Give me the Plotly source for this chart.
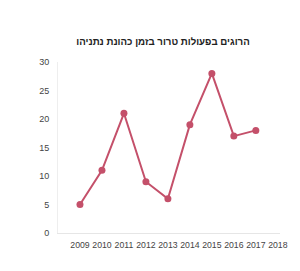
import plotly.graph_objects as go

years = [2009, 2010, 2011, 2012, 2013, 2014, 2015, 2016, 2017]
deaths = [5, 11, 21, 9, 6, 19, 28, 17, 18]
x_ticks = [2009, 2010, 2011, 2012, 2013, 2014, 2015, 2016, 2017, 2018]
y_ticks = [0, 5, 10, 15, 20, 25, 30]
title = "הרוגים בפעולות טרור בזמן כהונת נתניהו"

fig = go.Figure(go.Scatter(
    x=years, y=deaths, mode="lines+markers",
    line=dict(color="#c4506a", width=2),
    marker=dict(color="#c4506a", size=7),
))

fig.update_layout(
    width=300, height=271,
    margin=dict(l=58, r=17, t=62, b=38),
    paper_bgcolor="white", plot_bgcolor="white",
    showlegend=False,
    title=dict(text="<b>" + title + "</b>", x=163/300, xanchor="center", y=1 - 42/271, yanchor="middle",
               font=dict(family="Liberation Sans, Arial", size=9.7, color="#222")),
    font=dict(family="Liberation Sans, Arial", size=9, color="#444"),
)
fig.update_xaxes(range=[2008.0, 2018.1], tickvals=x_ticks, ticktext=[str(v) for v in x_ticks],
                 showgrid=False, zeroline=False, showline=True, linecolor="#e6e6e6", linewidth=1,
                 ticks="", tickangle=0, ticklabelstandoff=4, tickfont=dict(size=8.7, color="#444"))
fig.update_yaxes(range=[0, 30], tickvals=y_ticks, showgrid=False, zeroline=False,
                 showline=True, linecolor="#eeeeee", linewidth=1, ticks="",
                 ticklabelstandoff=6, tickfont=dict(size=9, color="#444"))

fig.write_html("out.html")
